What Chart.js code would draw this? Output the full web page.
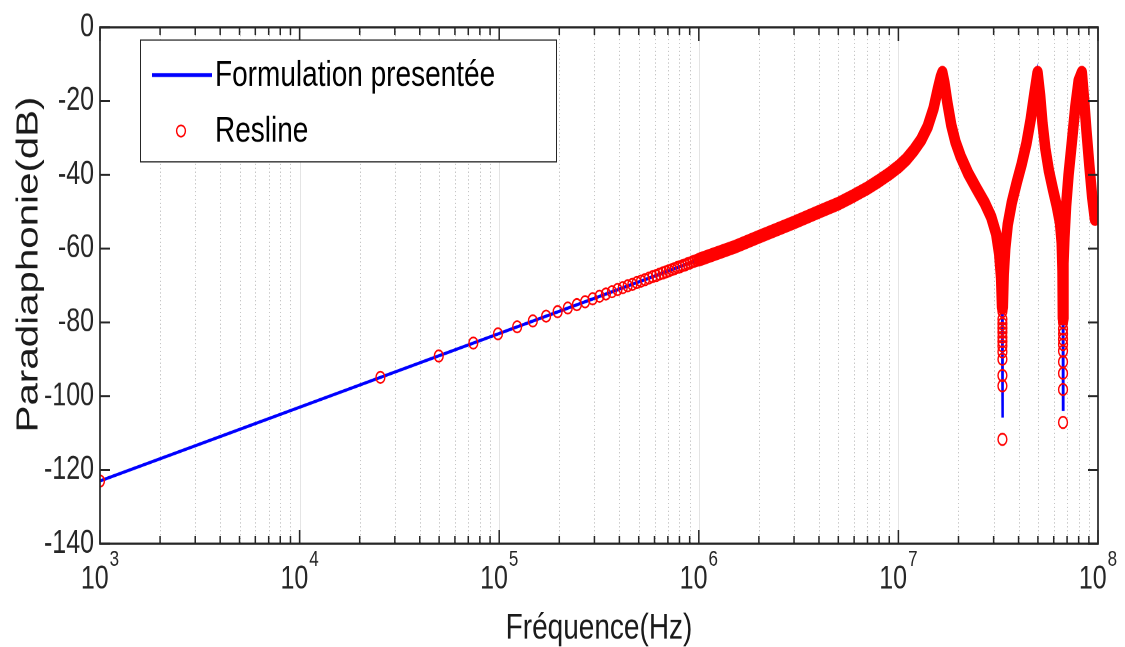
<!DOCTYPE html>
<html>
<head>
<meta charset="utf-8">
<script src="https://cdn.jsdelivr.net/npm/chart.js@4/dist/chart.umd.min.js"></script>
<style>
  html { overflow: hidden; }
  html, body { margin: 0; background: #fff; }
  body { width: 1125px; height: 647px; }
  /* figure is drawn at 1125x498 and stretched vertically, like the original */
  #wrap { width: 1125px; height: 498px; transform: scaleY(1.2992); transform-origin: 0 0; }
</style>
</head>
<body>
<div id="wrap"><canvas id="chart"></canvas></div>
<script>
// axis ticks
const xExponents = [3, 4, 5, 6, 7, 8];
const yTicks = [0, -20, -40, -60, -80, -100, -120, -140];

// "Formulation presentée" (blue line), frequency in Hz / level in dB
const lineFreq = [1e3, 1e4, 1e5, 1e6, 1.5e6, 2e6, 3e6, 4e6, 5e6, 6e6, 7e6, 8e6, 9e6, 1e7,
  1.1e7, 1.2e7, 1.3e7, 1.4e7, 1.5e7, 1.58e7, 1.63e7, 1.66e7, 1.7e7, 1.76e7, 1.84e7, 1.93e7,
  2.05e7, 2.232e7, 2.45e7, 2.7e7, 2.92e7, 3.09e7, 3.2e7, 3.27e7, 3.306e7, 3.32e7,
  3.335e7, 3.37e7, 3.43e7, 3.53e7, 3.7e7, 3.92e7, 4.15e7, 4.38e7, 4.6e7,
  4.8e7, 4.98e7, 5.13e7, 5.27e7, 5.45e7, 5.68e7, 5.95e7, 6.22e7, 6.45e7,
  6.58e7, 6.64e7, 6.66e7, 6.675e7, 6.68e7, 6.685e7, 6.70e7, 6.73e7, 6.79e7, 6.92e7, 7.12e7, 7.4e7, 7.7e7,
  8.0e7, 8.3e7, 8.5e7, 8.75e7, 9.05e7, 9.35e7, 9.65e7];
const lineDb = [-123, -103, -83, -63, -59.6, -56.8, -52.9, -50.0, -47.8, -45.6, -43.6, -41.6, -39.7, -37.8,
  -35.7, -33.2, -30.5, -27.0, -22.0, -16.5, -13.5, -12.3, -15.0, -20.5, -26.5, -31.0,
  -35.0, -39.5, -43.5, -47.5, -51.5, -56.0, -61.5, -68.0, -76.0, -105.8,
  -76.0, -67.0, -60.0, -53.5, -47.5, -42.0, -37.0, -31.5, -25.0,
  -18.0, -12.3, -18.5, -26.0, -33.0, -39.0, -44.0, -48.5, -53.0,
  -58.5, -66.0, -73.0, -79.0, -103.6, -79.0, -72.0, -64.0, -57.0, -48.5, -40.0, -31.0, -21.5,
  -14.5, -12.3, -19.0, -28.0, -37.5, -46.0, -52.0, -54.5];

// "Resline" markers, low band where the circles are still apart
const resFreq = [1000, 25400, 49800, 74200, 98600, 123000, 147400, 171800, 196200, 220600,
  245000, 269400, 293800, 318200, 342600, 367000, 391400, 415800, 440200, 464600,
  489000, 513400, 537800, 562200, 586600, 611000, 635400, 659800, 684200, 708600,
  733000, 757400, 781800, 806200, 830600, 855000, 879400, 903800, 928200, 952600, 977000];
const resDb = [-123.0, -94.9, -89.1, -85.6, -83.1, -81.2, -79.6, -78.3, -77.1, -76.1,
  -75.2, -74.4, -73.6, -72.9, -72.3, -71.7, -71.1, -70.6, -70.1, -69.7,
  -69.2, -68.8, -68.4, -68.0, -67.6, -67.3, -66.9, -66.6, -66.3, -66.0,
  -65.7, -65.4, -65.1, -64.9, -64.6, -64.4, -64.1, -63.9, -63.6, -63.4, -63.2];

// "Resline" above 1 MHz, where the circles merge into one solid band (null = gap at a dip)
const bandFreq = [1e6, 1.5e6, 2e6, 3e6, 4e6, 5e6, 6e6, 7e6, 8e6, 9e6, 1e7,
  1.1e7, 1.2e7, 1.3e7, 1.4e7, 1.5e7, 1.58e7, 1.63e7, 1.66e7, 1.7e7, 1.76e7, 1.84e7, 1.93e7,
  2.05e7, 2.232e7, 2.45e7, 2.7e7, 2.92e7, 3.09e7, 3.2e7, 3.27e7, 3.306e7, 3.32e7,
  3.335e7, 3.37e7, 3.43e7, 3.53e7, 3.7e7, 3.92e7, 4.15e7, 4.38e7, 4.6e7,
  4.8e7, 4.98e7, 5.13e7, 5.27e7, 5.45e7, 5.68e7, 5.95e7, 6.22e7, 6.45e7,
  6.58e7, 6.64e7, 6.66e7, 6.675e7, 6.68e7, 6.685e7, 6.70e7, 6.73e7, 6.79e7, 6.92e7, 7.12e7, 7.4e7, 7.7e7,
  8.0e7, 8.3e7, 8.5e7, 8.75e7, 9.05e7, 9.35e7, 9.65e7];
const bandDb = [-63, -59.6, -56.8, -52.9, -50.0, -47.8, -45.6, -43.6, -41.6, -39.7, -37.8,
  -35.7, -33.2, -30.5, -27.0, -22.0, -16.5, -13.5, -12.3, -15.0, -20.5, -26.5, -31.0,
  -35.0, -39.5, -43.5, -47.5, -51.5, -56.0, -61.5, -68.0, -76.0, null,
  -76.0, -67.0, -60.0, -53.5, -47.5, -42.0, -37.0, -31.5, -25.0,
  -18.0, -12.3, -18.5, -26.0, -33.0, -39.0, -44.0, -48.5, -53.0,
  -58.5, -66.0, -73.0, -79.0, null, -79.0, -72.0, -64.0, -57.0, -48.5, -40.0, -31.0, -21.5,
  -14.5, -12.3, -19.0, -28.0, -37.5, -46.0, -52.0, -54.5];

// "Resline" circles strung down the two dips
const dipFreq = [3.32e7, 3.32e7, 3.32e7, 3.32e7, 3.32e7, 3.32e7, 3.32e7, 3.32e7, 3.32e7, 3.32e7, 3.32e7, 3.32e7, 3.32e7,
  6.68e7, 6.68e7, 6.68e7, 6.68e7, 6.68e7, 6.68e7, 6.68e7, 6.68e7, 6.68e7, 6.68e7];
const dipDb = [-77.0, -79.1, -80.4, -81.6, -82.7, -84.0, -85.2, -86.4, -88.0, -90.0, -94.4, -97.2, -111.7,
  -80.0, -81.8, -83.1, -84.6, -86.0, -87.8, -90.7, -93.8, -98.2, -107.1];

const FONT = '"Liberation Sans", Arial, Helvetica, sans-serif';
const AXIS = '#262626';
const RED = '#ff0000';
const BLUE = '#0000ff';
const Y_TITLE = 'Paradiaphonie(dB)';

const pts = (xs, ys) => xs.map((x, i) => ({ x: x, y: ys[i] }));

const frame = {
    id: 'frame',
    beforeDatasetsDraw(chart) {
        const { ctx, chartArea: a, scales: { x } } = chart;
        ctx.save();
        ctx.lineWidth = 1;
        xExponents.slice(0, -1).forEach(e => {
            for (let d = 1; d < 10; d++) {
                if (d === 1 && e === xExponents[0]) continue;
                const px = Math.round(x.getPixelForValue(d * Math.pow(10, e))) + 0.5;
                ctx.beginPath();
                if (d === 1) {
                    ctx.setLineDash([]);
                    ctx.strokeStyle = '#e4e4e4';
                } else {
                    ctx.setLineDash([1, 2]);
                    ctx.strokeStyle = '#c6c6c6';
                }
                ctx.moveTo(px, a.top);
                ctx.lineTo(px, a.bottom);
                ctx.stroke();
            }
        });
        ctx.restore();
    },
    afterDatasetsDraw(chart) {
        const { ctx, chartArea: a, scales: { x, y } } = chart;
        ctx.save();
        ctx.strokeStyle = AXIS;
        ctx.lineWidth = 1.5;
        ctx.beginPath();
        // tick marks, pointing in
        xExponents.forEach((e, k) => {
            for (let d = 1; d < 10; d++) {
                if (k === xExponents.length - 1 && d > 1) break;
                const px = x.getPixelForValue(d * Math.pow(10, e));
                const len = d === 1 ? 10.5 : 6;
                ctx.moveTo(px, a.bottom); ctx.lineTo(px, a.bottom - len);
                ctx.moveTo(px, a.top); ctx.lineTo(px, a.top + len);
            }
        });
        yTicks.forEach(v => {
            const py = y.getPixelForValue(v);
            ctx.moveTo(a.left, py); ctx.lineTo(a.left + 10, py);
            ctx.moveTo(a.right, py); ctx.lineTo(a.right - 10, py);
        });
        ctx.stroke();
        ctx.lineWidth = 1.7;
        ctx.strokeRect(a.left, a.top, a.right - a.left, a.bottom - a.top);

        // x tick labels 10^n
        ctx.fillStyle = AXIS;
        ctx.textBaseline = 'middle';
        ctx.textAlign = 'left';
        xExponents.forEach(e => {
            const px = x.getPixelForValue(Math.pow(10, e));
            ctx.font = '25px ' + FONT;
            const w1 = ctx.measureText('10').width;
            ctx.font = '17px ' + FONT;
            const w2 = ctx.measureText(String(e)).width;
            const start = px - (w1 + w2 + 1) / 2;
            ctx.font = '25px ' + FONT;
            ctx.fillText('10', start, 446);
            ctx.font = '17px ' + FONT;
            ctx.fillText(String(e), start + w1 + 1, 431);
        });

        // y axis title
        ctx.translate(29, 203.5);
        ctx.rotate(-Math.PI / 2);
        ctx.textAlign = 'center';
        ctx.fillStyle = '#1a1a1a';
        ctx.font = '31px ' + FONT;
        ctx.fillText(Y_TITLE, 0, 0);
        ctx.restore();
    },
    afterDraw(chart) {
        // legend box
        const { ctx } = chart;
        const ds = chart.data.datasets;
        ctx.save();
        ctx.fillStyle = '#fff';
        ctx.fillRect(140, 30.8, 416, 93.8);
        ctx.strokeStyle = AXIS;
        ctx.lineWidth = 1;
        ctx.strokeRect(140.5, 30.8, 416, 93.8);

        ctx.strokeStyle = ds[0].borderColor;
        ctx.lineWidth = 3;
        ctx.beginPath();
        ctx.moveTo(152, 57.7); ctx.lineTo(212, 57.7);
        ctx.stroke();

        ctx.strokeStyle = ds[1].pointBorderColor;
        ctx.lineWidth = ds[1].pointBorderWidth;
        ctx.beginPath();
        ctx.arc(181, 100.8, ds[1].pointRadius, 0, Math.PI * 2);
        ctx.stroke();

        ctx.fillStyle = '#000';
        ctx.font = '28px ' + FONT;
        ctx.textBaseline = 'middle';
        ctx.fillText(ds[0].label, 215, 58.5);
        ctx.fillText(ds[1].label, 215, 101.5);
        ctx.restore();
    }
};

const markerStyle = {
    type: 'line',
    showLine: false,
    pointStyle: 'circle',
    pointRadius: 4.4,
    pointBorderWidth: 1.4,
    pointBorderColor: RED,
    pointBackgroundColor: 'rgba(0,0,0,0)',
    pointHoverRadius: 4.4
};

new Chart(document.getElementById('chart'), {
    type: 'line',
    data: {
        datasets: [
            {
                label: 'Formulation presentée',
                data: pts(lineFreq, lineDb),
                borderColor: BLUE,
                borderWidth: 2.5,
                pointRadius: 0,
                tension: 0,
                order: 3
            },
            Object.assign({ label: 'Resline', data: pts(resFreq, resDb), order: 2 }, markerStyle),
            Object.assign({ label: 'Resline', data: pts(dipFreq, dipDb), order: 1 }, markerStyle),
            {
                label: 'Resline',
                data: pts(bandFreq, bandDb),
                borderColor: RED,
                borderWidth: 10.5,
                borderCapStyle: 'round',
                borderJoinStyle: 'round',
                pointRadius: 0,
                spanGaps: false,
                tension: 0,
                order: 0
            }
        ]
    },
    options: {
        responsive: true,
        maintainAspectRatio: false,
        animation: false,
        devicePixelRatio: 2,
        layout: { padding: { left: 0, right: 27, top: 16.2, bottom: 0 } },
        plugins: { legend: { display: false }, tooltip: { enabled: false } },
        scales: {
            x: {
                type: 'logarithmic',
                min: 1e3,
                max: 1e8,
                grid: { display: false, drawTicks: false },
                border: { display: false },
                ticks: { display: false },
                title: {
                    display: true,
                    text: 'Fréquence(Hz)',
                    color: '#1a1a1a',
                    font: { family: FONT, size: 28, lineHeight: 1 },
                    padding: { top: 0, bottom: 0 }
                },
                afterFit: s => { s.height = 79.5; }
            },
            y: {
                min: -140,
                max: 0,
                grid: { display: false, drawTicks: false },
                border: { display: false },
                ticks: {
                    stepSize: 20,
                    padding: 6,
                    color: AXIS,
                    font: { family: FONT, size: 25 },
                    callback: v => String(v)
                },
                title: { display: false },
                afterFit: s => { s.width = 100; }
            }
        }
    },
    plugins: [frame]
});
</script>
</body>
</html>
